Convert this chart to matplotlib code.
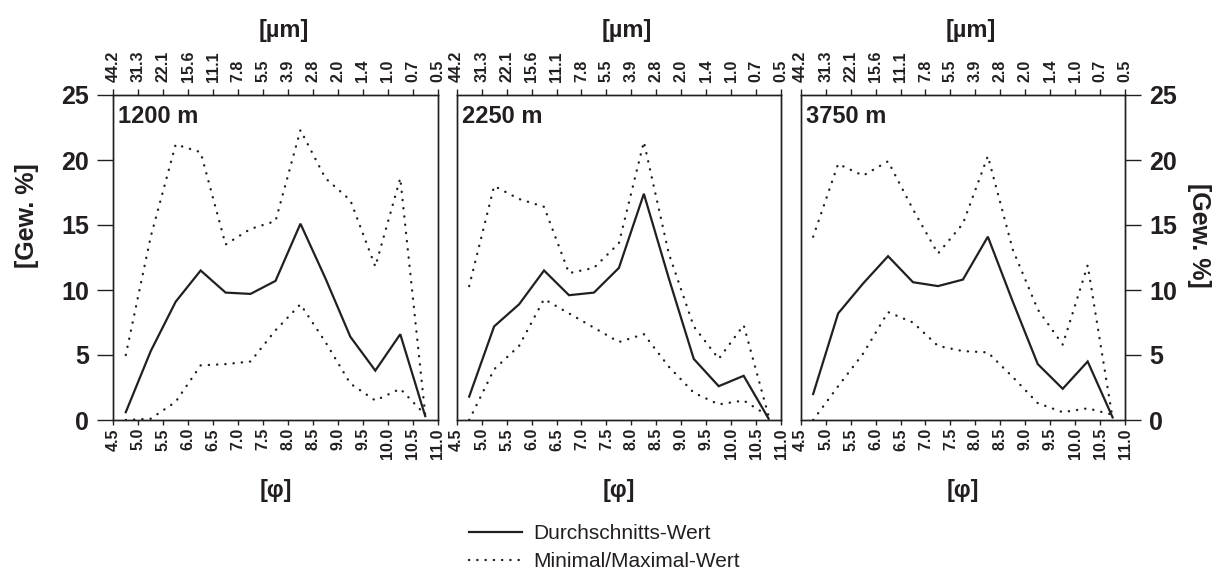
import matplotlib
matplotlib.use('Agg')
import matplotlib.pyplot as plt
from matplotlib.lines import Line2D

# ---------------- data ----------------
phi_mid = [4.75, 5.25, 5.75, 6.25, 6.75, 7.25, 7.75, 8.25, 8.75, 9.25, 9.75, 10.25, 10.75]
phi_ticks = [4.5, 5.0, 5.5, 6.0, 6.5, 7.0, 7.5, 8.0, 8.5, 9.0, 9.5, 10.0, 10.5, 11.0]
phi_labels = ['4.5', '5.0', '5.5', '6.0', '6.5', '7.0', '7.5', '8.0', '8.5', '9.0',
              '9.5', '10.0', '10.5', '11.0']
um_labels = ['44.2', '31.3', '22.1', '15.6', '11.1', '7.8', '5.5', '3.9', '2.8', '2.0',
             '1.4', '1.0', '0.7', '0.5']
y_ticks = [0, 5, 10, 15, 20, 25]
depths = ['1200 m', '2250 m', '3750 m']

mean_1200 = [0.6, 5.3, 9.1, 11.5, 9.8, 9.7, 10.7, 15.1, 10.9, 6.4, 3.8, 6.6, 0.3]
max_1200 = [5.0, 14.1, 21.2, 20.6, 13.5, 14.7, 15.3, 22.3, 18.6, 16.9, 11.8, 18.6, 0.4]
min_1200 = [0.0, 0.1, 1.4, 4.2, 4.3, 4.5, 6.9, 8.9, 6.0, 2.8, 1.5, 2.4, 0.4]

mean_2250 = [1.8, 7.2, 8.9, 11.5, 9.6, 9.8, 11.7, 17.4, 10.9, 4.7, 2.6, 3.4, 0.1]
max_2250 = [10.3, 18.0, 17.0, 16.4, 11.3, 11.7, 13.6, 21.4, 12.8, 7.2, 4.7, 7.3, 0.3]
min_2250 = [0.0, 3.9, 5.7, 9.3, 8.2, 7.1, 6.0, 6.6, 4.1, 2.1, 1.2, 1.5, 0.3]

mean_3750 = [2.0, 8.2, 10.5, 12.6, 10.6, 10.3, 10.8, 14.1, 9.1, 4.3, 2.4, 4.5, 0.2]
max_3750 = [14.1, 19.7, 18.8, 19.9, 16.2, 12.8, 15.1, 20.3, 13.1, 8.5, 5.8, 11.9, 0.1]
min_3750 = [0.0, 2.6, 5.1, 8.3, 7.5, 5.7, 5.3, 5.2, 3.3, 1.3, 0.6, 0.9, 0.4]

means = [mean_1200, mean_2250, mean_3750]
maxs = [max_1200, max_2250, max_3750]
mins = [min_1200, min_2250, min_3750]

# ---------------- style ----------------
INK = '#231f20'
REG_FAM = ['Liberation Sans', 'DejaVu Sans']
plt.rcParams['font.family'] = REG_FAM
plt.rcParams['text.color'] = INK
plt.rcParams['axes.edgecolor'] = INK
plt.rcParams['xtick.color'] = INK
plt.rcParams['ytick.color'] = INK

W, H = 1227, 571
fig = plt.figure(figsize=(W / 100, H / 100), dpi=100)

lefts_px = [113.3, 456.7, 800.7]
ax_w_px = 324.4
ax_top_px, ax_bot_px = 95, 420

dotted = (0, (0.1, 3.4))
DOT_LW = 1.7

for i, lp in enumerate(lefts_px):
    ax = fig.add_axes([lp / W, 1 - ax_bot_px / H, ax_w_px / W, (ax_bot_px - ax_top_px) / H])
    ax.plot(phi_mid, means[i], color=INK, lw=1.6, solid_joinstyle='miter')
    ax.plot(phi_mid, maxs[i], color=INK, lw=DOT_LW, linestyle=dotted, dash_capstyle='round')
    ax.plot(phi_mid, mins[i], color=INK, lw=DOT_LW, linestyle=dotted, dash_capstyle='round')
    ax.set_xlim(4.5, 11.0)
    ax.set_ylim(0, 25)
    for s in ax.spines.values():
        s.set_linewidth(1.0)

    ax.set_xticks(phi_ticks)
    ax.set_xticklabels(phi_labels, rotation=90, fontsize=11.5, fontweight='bold', family=REG_FAM)
    ax.tick_params(axis='x', direction='out', length=3.8, width=1.0, pad=2)

    ax.set_yticks(y_ticks)
    if i == 0:
        ax.tick_params(axis='y', left=True, right=False, labelleft=True, labelright=False,
                       direction='out', length=11.5, width=1.0, pad=6)
    elif i == 2:
        ax.tick_params(axis='y', left=False, right=True, labelleft=False, labelright=True,
                       direction='out', length=11.5, width=1.0, pad=6)
    else:
        ax.tick_params(axis='y', left=False, right=False, labelleft=False, labelright=False)
    for lab in ax.get_yticklabels():
        lab.set_fontsize(18)
        lab.set_fontweight('bold')

    ax.text(0.016, 0.934, depths[i], transform=ax.transAxes, ha='left', va='center',
            fontsize=17, fontweight='bold', family=REG_FAM, color=INK)

    top = ax.twiny()
    top.set_xlim(4.5, 11.0)
    top.set_xticks(phi_ticks)
    top.set_xticklabels(um_labels, rotation=90, fontsize=11.5, fontweight='bold', family=REG_FAM)
    top.tick_params(axis='x', direction='out', length=4.5, width=1.0, pad=5)
    for s in top.spines.values():
        s.set_linewidth(1.0)

    cx = (lp + ax_w_px / 2) / W
    fig.text(cx + 8 / W, 1 - 30 / H, '[µm]', ha='center', va='center', fontsize=17,
             fontweight='bold', family=REG_FAM)
    fig.text(cx, 1 - 490 / H, '[φ]', ha='center', va='center', fontsize=17,
             fontweight='bold', family=REG_FAM)

fig.text(27 / W, 1 - 216 / H, '[Gew. %]', rotation=90, ha='center', va='center',
         fontsize=18, fontweight='bold', family=REG_FAM)
fig.text(1199 / W, 1 - 235 / H, '[Gew. %]', rotation=270, ha='center', va='center',
         fontsize=18, fontweight='bold', family=REG_FAM)

handles = [Line2D([], [], color=INK, lw=1.6),
           Line2D([], [], color=INK, lw=DOT_LW, linestyle=dotted, dash_capstyle='round')]
labels = ['Durchschnitts-Wert', 'Minimal/Maximal-Wert']
fig.legend(handles, labels, loc='upper left', bbox_to_anchor=(469 / W, 1 - 524 / H),
           frameon=False, handlelength=2.55, handletextpad=0.55,
           labelspacing=0.45, borderpad=0, borderaxespad=0, prop={'family': REG_FAM, 'size': 15})

fig.savefig('out.png', dpi=100)
